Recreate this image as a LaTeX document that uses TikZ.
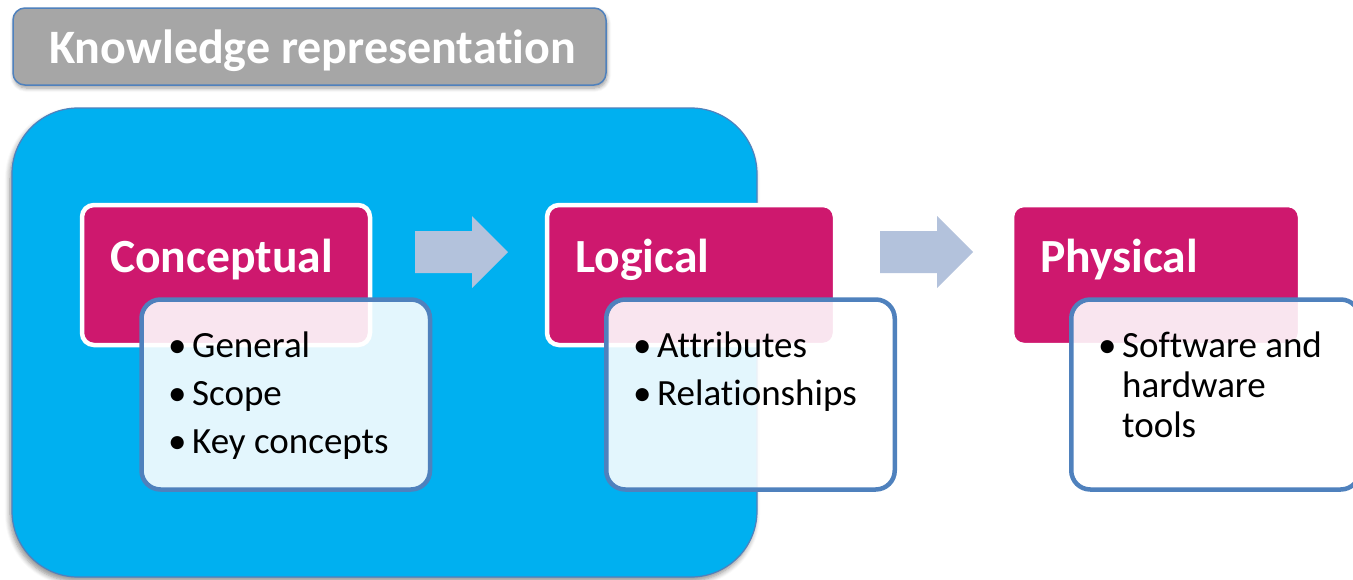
\documentclass[tikz,border=0pt]{standalone}
\usepackage{fontspec}
\setmainfont{Carlito}[RawFeature={-liga;-clig}]
\usetikzlibrary{shadows.blur}
\definecolor{kgray}{RGB}{166,166,166}
\definecolor{kblue}{RGB}{0,176,240}
\definecolor{kborder}{RGB}{79,129,189}
\definecolor{kmag}{RGB}{206,24,110}
\definecolor{karrow}{RGB}{179,194,220}
\tikzset{
  titlebox/.style={rectangle, rounded corners=12pt, fill=kgray, draw=kborder, line width=1.5pt, inner sep=0pt,
    minimum width=593pt, minimum height=77pt, blur shadow={shadow xshift=1pt, shadow yshift=-3pt, shadow blur steps=6, shadow blur radius=4pt, shadow opacity=40}},
  bigbox/.style={rectangle, rounded corners=66pt, fill=kblue, draw=kborder, line width=1.2pt, inner sep=0pt,
    minimum width=745pt, minimum height=469pt, blur shadow={shadow xshift=-2pt, shadow yshift=-4pt, shadow blur steps=6, shadow blur radius=5pt, shadow opacity=45}},
  headbox/.style={rectangle, rounded corners=12pt, fill=kmag, draw=white, line width=4.5pt, inner sep=0pt,
    minimum width=288pt, minimum height=140pt},
  itembox/.style={rectangle, rounded corners=19pt, fill=white, fill opacity=0.89, draw=kborder, draw opacity=1, line width=4.5pt, inner sep=0pt,
    minimum width=288.5pt, minimum height=190pt},
  blockarrow/.style={fill=karrow},
  headtext/.style={anchor=base west, inner sep=0pt, text=white, font=\bfseries\fontsize{47.6}{52}\selectfont},
  titletext/.style={anchor=base west, inner sep=0pt, text=white, font=\bfseries\fontsize{48}{54}\selectfont},
  itemtext/.style={anchor=base west, inner sep=0pt, text=black, font=\fontsize{37}{40}\selectfont},
}
\newcommand{\kbul}{\makebox[24pt][l]{•}}
\newcommand{\kind}{\makebox[24pt]{}}
\begin{document}
\begin{tikzpicture}[x=1pt,y=-1pt]
\useasboundingbox (0,0) rectangle (1353,579);
% title
\node[titlebox] (title) at (309.5,46.5) {};
\node[titletext] (titlet) at (49,63) {Knowledge representation};
% big blue panel
\node[bigbox] (panel) at (384.5,342.5) {};
% heading boxes
\node[headbox] (conc) at (226,275) {};
\node[headbox] (logi) at (691,275) {};
\node[headbox] (phys) at (1156,275) {};
\node[headtext] (conct) at (110,272) {Conceptual};
\node[headtext] (logit) at (575,272) {Logical};
\node[headtext] (physt) at (1040,272) {Physical};
% item boxes
\node[itembox] (conci) at (285.75,394.5) {};
\node[itembox] (logii) at (750.5,394.5) {};
\node[itembox] (physi) at (1215.5,394.5) {};
\node[itemtext] (concl) at (168,357) {\begin{tabular}[t]{@{}l@{}}\kbul General\\[8pt]\kbul Scope\\[8pt]\kbul Key concepts\end{tabular}};
\node[itemtext] (logil) at (633,357) {\begin{tabular}[t]{@{}l@{}}\kbul Attributes\\[8pt]\kbul Relationships\end{tabular}};
\node[itemtext] (physl) at (1098,357) {\begin{tabular}[t]{@{}l@{}}\kbul Software and\\\kind hardware\\\kind tools\end{tabular}};
% block arrows
\fill[blockarrow] (415,231) -- (472,231) -- (472,216) -- (508,252) -- (472,288) -- (472,273) -- (415,273) -- cycle;
\fill[blockarrow] (880,231) -- (937,231) -- (937,216) -- (973,252) -- (937,288) -- (937,273) -- (880,273) -- cycle;
\end{tikzpicture}
\end{document}
